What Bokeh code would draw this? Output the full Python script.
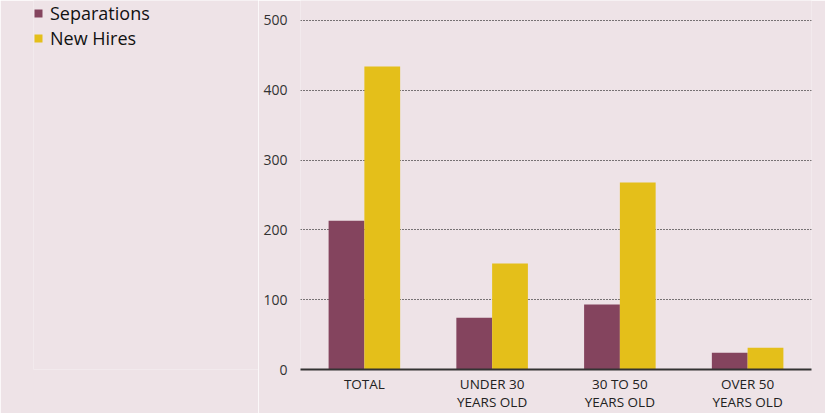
from bokeh.plotting import figure
from bokeh.layouts import row
from bokeh.models import ColumnDataSource, FactorRange, Range1d, FixedTicker, Legend, LegendItem
from bokeh.transform import dodge
from bokeh.embed import file_html
from bokeh.resources import INLINE

categories = ["TOTAL", "UNDER 30\nYEARS OLD", "30 TO 50\nYEARS OLD", "OVER 50\nYEARS OLD"]
separations = [213, 74, 93, 24]
new_hires = [434, 152, 268, 31]
series_names = ["Separations", "New Hires"]
y_ticks = [0, 100, 200, 300, 400, 500]

BG = "#EEE3E7"
SEP_COLOR = "#84445E"
NH_COLOR = "#E4BF1A"
FONT = "Open Sans"

src = ColumnDataSource(dict(cat=categories, sep=separations, nh=new_hires))

# ---- main chart ----
fig = figure(width=567, height=413, output_backend="svg", toolbar_location=None,
             x_range=FactorRange(*categories, range_padding=0), y_range=Range1d(0, 528.6),
             min_border_left=42, min_border_right=14, min_border_top=0, min_border_bottom=0)
fig.background_fill_color = BG
fig.border_fill_color = BG
fig.outline_line_color = None

fig.vbar(x=dodge("cat", -0.14, range=fig.x_range), top="sep", width=0.28, source=src,
         fill_color=SEP_COLOR, line_color=None)
fig.vbar(x=dodge("cat", 0.14, range=fig.x_range), top="nh", width=0.28, source=src,
         fill_color=NH_COLOR, line_color=None)

fig.xgrid.grid_line_color = None
fig.ygrid.ticker = FixedTicker(ticks=y_ticks)
fig.ygrid.grid_line_color = "#000000"
fig.ygrid.grid_line_dash = "1 2"
fig.ygrid.grid_line_width = 1

fig.yaxis.ticker = FixedTicker(ticks=y_ticks)
fig.yaxis.axis_line_color = None
fig.yaxis.major_tick_line_color = None
fig.yaxis.minor_tick_line_color = None
fig.yaxis.major_label_text_font = FONT
fig.yaxis.major_label_text_font_size = "14px"
fig.yaxis.major_label_text_color = "#333333"
fig.yaxis.major_label_standoff = 7

fig.xaxis.axis_line_color = "#333333"
fig.xaxis.axis_line_width = 2
fig.xaxis.major_tick_line_color = None
fig.xaxis.major_tick_out = 0
fig.xaxis.major_tick_in = 0
fig.xaxis.minor_tick_line_color = None
fig.xaxis.axis_label = None
fig.xaxis.major_label_text_font = FONT
fig.xaxis.major_label_text_font_size = "13.5px"
fig.xaxis.major_label_text_line_height = 1.0
fig.xaxis.major_label_text_color = "#222222"
fig.xaxis.major_label_standoff = 5

# ---- legend panel ----
leg_fig = figure(width=258, height=413, output_backend="svg", toolbar_location=None,
                 x_range=Range1d(0, 1), y_range=Range1d(0, 1),
                 x_axis_type=None, y_axis_type=None,
                 min_border_left=33, min_border_right=0, min_border_top=0, min_border_bottom=0)
leg_fig.background_fill_color = BG
leg_fig.border_fill_color = BG
leg_fig.outline_line_color = None
leg_fig.grid.visible = False
# zero-height swatch renderers that only supply the legend glyphs
l1 = leg_fig.vbar(x=[0.5], top=[0], width=0.1, fill_color=SEP_COLOR, line_color=None)
l2 = leg_fig.vbar(x=[0.5], top=[0], width=0.1, fill_color=NH_COLOR, line_color=None)

legend = Legend(items=[LegendItem(label=series_names[0], renderers=[l1]),
                       LegendItem(label=series_names[1], renderers=[l2])],
                location="top_left")
legend.background_fill_alpha = 0
legend.border_line_color = None
legend.padding = 6
legend.margin = 0
legend.glyph_width = 10
legend.glyph_height = 10
legend.label_standoff = 7
legend.spacing = 0
legend.label_height = 25
legend.label_text_font = FONT
legend.label_text_font_size = "18px"
legend.label_text_color = "#111111"
leg_fig.add_layout(legend)

p = row(leg_fig, fig, spacing=0)

open("out.html", "w").write(file_html(p, INLINE))
